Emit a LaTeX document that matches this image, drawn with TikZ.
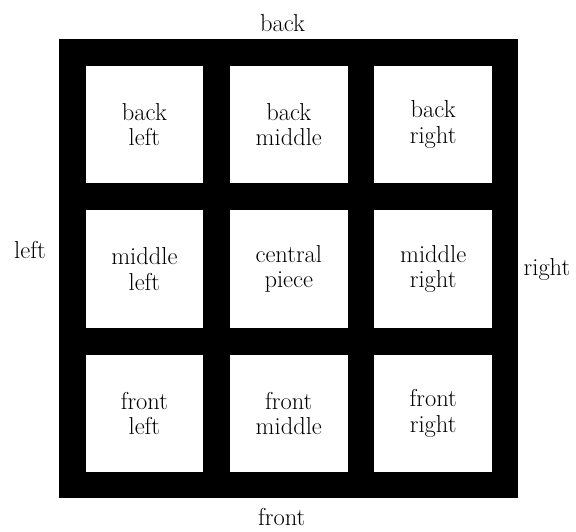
\documentclass[tikz,border=0pt]{standalone}
\usepackage{tikz}
\usetikzlibrary{positioning}

\begin{document}
\begin{tikzpicture}[
  x=1pt, y=-1pt,
  node distance=26.5pt and 26.5pt,
  board/.style={fill=black, draw=none, minimum size=459pt, inner sep=0pt},
  piece/.style={fill=white, draw=none, minimum size=117.5pt, inner sep=0pt, align=center, font=\fontsize{24.5}{25.5}\selectfont},
  side/.style={anchor=base, inner sep=0pt, font=\fontsize{24.5}{25.5}\selectfont}]
  \useasboundingbox (0,0) rectangle (576,531);
  \node[board] (frame) at (288.8,268.8) {};
  \node[piece] (bm) at (frame.center |- 0,124.7) {back\\middle};
  \node[piece, left=of bm] (bl) {back\\left};
  \node[piece, right=of bm] (br) {back\\right};
  \node[piece, below=of bl] (ml) {middle\\left};
  \node[piece, below=of bm] (cp) {central\\piece};
  \node[piece, below=of br] (mr) {middle\\right};
  \node[piece, below=of ml] (fl) {front\\left};
  \node[piece, below=of cp] (fm) {front\\middle};
  \node[piece, below=of mr] (fr) {front\\right};
  \node[side] (back) at (282.5,31) {back};
  \node[side] (front) at (281.7,525) {front};
  \node[side] (left) at (30,258) {left};
  \node[side] (right) at (547,275.7) {right};
\end{tikzpicture}
\end{document}
